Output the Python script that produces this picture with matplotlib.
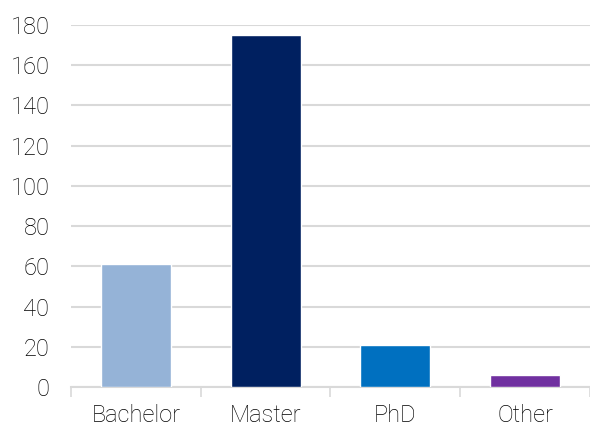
import matplotlib.pyplot as plt

plt.rcParams['font.family'] = ['Roboto', 'DejaVu Sans']

degrees = ["Bachelor", "Master", "PhD", "Other"]
counts = [61, 175, 21, 6]
bar_colors = ["#95B3D7", "#002060", "#0070C0", "#7030A0"]
y_ticks = [0, 20, 40, 60, 80, 100, 120, 140, 160, 180]

fig = plt.figure(figsize=(5.9, 4.3), dpi=100)
ax = fig.add_axes([0.1203, 0.1, 0.8797, 0.842])

x = range(len(degrees))
ax.bar(x, counts, width=0.54, color=bar_colors, edgecolor="white", linewidth=1, zorder=3)

ax.set_xlim(-0.5, len(degrees) - 0.5)
ax.set_ylim(0, 180)
ax.set_yticks(y_ticks)
ax.set_xticks(list(x))
ax.set_xticklabels(degrees)

# category separators on the x axis
ax.set_xticks([i - 0.5 for i in range(len(degrees) + 1)], minor=True)
ax.tick_params(axis="x", which="major", length=0, pad=12.5, labelsize=17)
ax.tick_params(axis="x", which="minor", length=7, width=1.2, color="#d9d9d9")
ax.tick_params(axis="y", length=0, pad=15.5, labelsize=17)
for lbl in ax.get_xticklabels() + ax.get_yticklabels():
    lbl.set_fontweight("light")
    lbl.set_color("#000000")

ax.yaxis.grid(True, color="#d9d9d9", linewidth=1.5, zorder=0)
ax.set_axisbelow(True)
for side in ["top", "right", "left"]:
    ax.spines[side].set_visible(False)
ax.spines["bottom"].set_color("#d9d9d9")
ax.spines["bottom"].set_linewidth(1.5)

fig.savefig("out.png", dpi=100)
